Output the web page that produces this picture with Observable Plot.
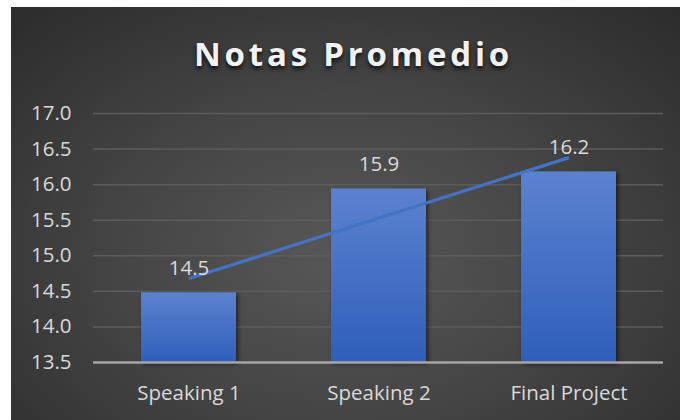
<!DOCTYPE html>
<html>
<head>
<meta charset="utf-8">
<script src="https://cdn.jsdelivr.net/npm/d3@7"></script>
<script src="https://cdn.jsdelivr.net/npm/@observablehq/plot@0.6"></script>
<style>
  html, body { margin: 0; padding: 0; background: #ffffff; }
  #frame {
    position: absolute; left: 11px; top: 7px; width: 669px; height: 413px;
    background: radial-gradient(ellipse 75% 85% at 50% 60%, #585858 0%, #454545 45%, #2a2a2a 100%);
    overflow: hidden;
    font-family: "Open Sans", sans-serif;
  }
  #title {
    position: absolute; left: 8px; top: 28px; width: 669px; text-align: center;
    font-family: "Open Sans", sans-serif; font-weight: 700; font-size: 33px;
    letter-spacing: 3.8px; color: #f2f2f2; line-height: 38px;
    text-shadow: 0 3px 4px rgba(0,0,0,0.75);
  }
  #chart { position: absolute; left: 0; top: 83px; }
  #chart g[aria-label="bar"] rect { filter: drop-shadow(2px 2px 2px rgba(0,0,0,0.55)); }
</style>
</head>
<body>
<div id="frame">
  <div id="title">Notas Promedio</div>
  <div id="chart"></div>
</div>
<script>
const categories = ["Speaking 1", "Speaking 2", "Final Project"];
const averages = [14.48, 15.94, 16.18];
const labels = ["14.5", "15.9", "16.2"];
const trend = [14.68, 15.53, 16.38];
const yTicks = [13.5, 14.0, 14.5, 15.0, 15.5, 16.0, 16.5, 17.0];

const data = categories.map((c, i) => ({category: c, value: averages[i], label: labels[i], trend: trend[i]}));

const textColor = "#d9d9d9";
const chart = Plot.plot({
  width: 669,
  height: 337,
  marginTop: 23,
  marginBottom: 65,
  marginLeft: 82,
  marginRight: 17,
  style: {background: "transparent", color: textColor, fontFamily: "'Open Sans', sans-serif", fontSize: "20.5px", overflow: "visible"},
  x: {domain: categories, paddingInner: 0.5, paddingOuter: 0.25, label: null, tickSize: 0, tickPadding: 23},
  y: {domain: [13.5, 17.0], ticks: yTicks, tickFormat: d3.format(".1f"), label: null, tickSize: 0, tickPadding: 22},
  marks: [
    Plot.ruleY(yTicks.filter(d => d > 13.5), {stroke: "#5c5c5c", strokeWidth: 1.5}),
    Plot.barY(data, {x: "category", y1: 13.5, y2: "value", fill: "url(#barGrad)"}),
    Plot.ruleY([13.5], {stroke: "#a6a6a6", strokeWidth: 2.5}),
    Plot.line(data, {x: "category", y: "trend", stroke: "#4472c4", strokeWidth: 3.2, strokeLinecap: "butt"}),
    Plot.text(data, {x: "category", y: "value", text: "label", dy: -24, fill: textColor, fontSize: 20.5})
  ]
});

const defs = d3.select(chart).insert("defs", ":first-child");
const g = defs.append("linearGradient").attr("id", "barGrad").attr("x1", 0).attr("y1", 0).attr("x2", 0).attr("y2", 1);
g.append("stop").attr("offset", "0%").attr("stop-color", "#5b82cf");
g.append("stop").attr("offset", "100%").attr("stop-color", "#2f5fbb");

document.getElementById("chart").appendChild(chart);
</script>
</body>
</html>
